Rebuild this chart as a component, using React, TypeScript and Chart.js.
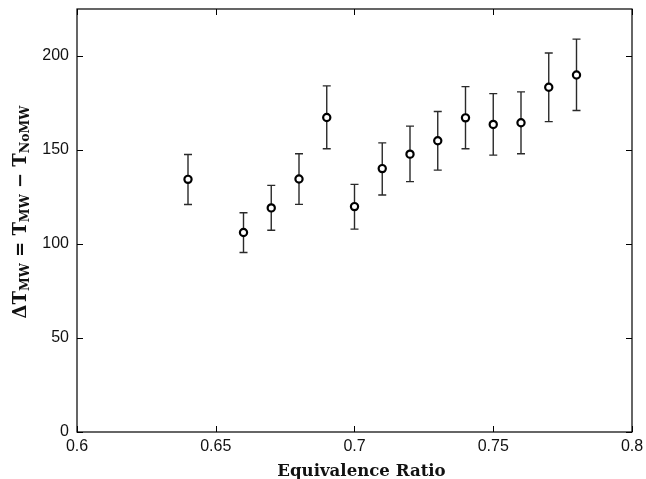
import React, { useEffect, useRef } from 'react';
import { Chart, registerables } from 'chart.js';

Chart.register(...registerables);

const ratios = [0.64, 0.66, 0.67, 0.68, 0.69, 0.7, 0.71, 0.72, 0.73, 0.74, 0.75, 0.76, 0.77, 0.78];
const deltaT = [134.4, 106.1, 119.2, 134.6, 167.3, 119.9, 140.1, 147.8, 154.9, 167.1, 163.6, 164.5, 183.4, 189.9];
const errLow = [121.0, 95.5, 107.3, 121.1, 150.7, 107.9, 126.1, 133.2, 139.3, 150.7, 147.3, 148.0, 165.1, 171.0];
const errHigh = [147.6, 116.6, 131.2, 148.0, 184.1, 131.7, 153.8, 162.7, 170.5, 183.7, 180.0, 180.9, 201.6, 209.0];
const xTicks = [0.6, 0.65, 0.7, 0.75, 0.8];
const yTicks = [0, 50, 100, 150, 200];
const xTitle = 'Equivalence Ratio';
const yTitleParts: { t: string; sub: boolean }[] = [
  { t: 'Δ', sub: false },
  { t: 'T', sub: false },
  { t: 'MW', sub: true },
  { t: ' = ', sub: false },
  { t: 'T', sub: false },
  { t: 'MW', sub: true },
  { t: ' − ', sub: false },
  { t: 'T', sub: false },
  { t: 'NoMW', sub: true },
];

const TICK_FONT = 'Liberation Sans, Arial, sans-serif';
const TITLE_FONT = 'DejaVu Serif, serif';

const framePlugin = {
  id: 'framePlugin',
  beforeDatasetsDraw(chart: any) {
    const { ctx, scales } = chart;
    const xs = scales.x;
    const ys = scales.y;
    ctx.save();
    ctx.strokeStyle = '#2a2a2a';
    ctx.lineWidth = 1.4;
    for (let i = 0; i < ratios.length; i++) {
      const px = xs.getPixelForValue(ratios[i]);
      const pl = ys.getPixelForValue(errLow[i]);
      const ph = ys.getPixelForValue(errHigh[i]);
      ctx.beginPath();
      ctx.moveTo(px, pl);
      ctx.lineTo(px, ph);
      ctx.moveTo(px - 4, pl);
      ctx.lineTo(px + 4, pl);
      ctx.moveTo(px - 4, ph);
      ctx.lineTo(px + 4, ph);
      ctx.stroke();
    }
    ctx.restore();
  },
  afterDraw(chart: any) {
    const { ctx, chartArea, scales } = chart;
    const xs = scales.x;
    const ys = scales.y;
    const { left, right, top, bottom } = chartArea;
    ctx.save();
    ctx.strokeStyle = '#000';
    ctx.lineWidth = 1.2;
    ctx.strokeRect(left, top, right - left, bottom - top);
    ctx.lineWidth = 1;
    ctx.beginPath();
    const tl = 6;
    for (const v of xTicks) {
      const px = Math.round(xs.getPixelForValue(v)) + 0.5;
      ctx.moveTo(px, bottom);
      ctx.lineTo(px, bottom - tl);
      ctx.moveTo(px, top);
      ctx.lineTo(px, top + tl);
    }
    for (const v of yTicks) {
      const py = Math.round(ys.getPixelForValue(v)) + 0.5;
      ctx.moveTo(left, py);
      ctx.lineTo(left + tl, py);
      ctx.moveTo(right, py);
      ctx.lineTo(right - tl, py);
    }
    ctx.stroke();

    // x axis title
    ctx.fillStyle = '#111';
    ctx.font = `bold 16.6px ${TITLE_FONT}`;
    ctx.textAlign = 'center';
    ctx.textBaseline = 'alphabetic';
    ctx.fillText(xTitle, (left + right) / 2 + 7, 475.5);

    // y axis title with subscripts
    const bigFont = `bold 18px ${TITLE_FONT}`;
    const subFont = `bold 12.5px ${TITLE_FONT}`;
    let total = 0;
    const widths: number[] = [];
    for (const p of yTitleParts) {
      ctx.font = p.sub ? subFont : bigFont;
      const w = ctx.measureText(p.t).width;
      widths.push(w);
      total += w;
    }
    ctx.translate(26, 212);
    ctx.rotate(-Math.PI / 2);
    ctx.textAlign = 'left';
    let x = -total / 2;
    yTitleParts.forEach((p, i) => {
      ctx.font = p.sub ? subFont : bigFont;
      ctx.fillText(p.t, x, p.sub ? 3 : 0);
      x += widths[i];
    });
    ctx.restore();
  },
};

export default function App() {
  const ref = useRef<HTMLCanvasElement | null>(null);
  useEffect(() => {
    if (!ref.current) return;
    const chart = new Chart(ref.current, {
      type: 'scatter',
      data: {
        datasets: [
          {
            data: ratios.map((r, i) => ({ x: r, y: deltaT[i] })),
            pointRadius: 3.6,
            pointBorderWidth: 2.2,
            borderColor: '#000',
            backgroundColor: '#fff',
            pointHoverRadius: 3.6,
          },
        ],
      },
      options: {
        responsive: false,
        animation: false,
        events: [],
        layout: { padding: { top: 9, right: 14, left: 0, bottom: 0 } },
        plugins: {
          legend: { display: false },
          tooltip: { enabled: false },
        },
        scales: {
          x: {
            type: 'linear',
            min: 0.6,
            max: 0.8,
            afterBuildTicks: (s: any) => {
              s.ticks = xTicks.map((v) => ({ value: v }));
            },
            afterFit: (s: any) => {
              s.height = 47;
              s.paddingLeft = 0;
              s.paddingRight = 0;
            },
            grid: { display: false, drawTicks: false },
            border: { display: false },
            ticks: {
              padding: 5,
              color: '#111',
              font: { family: TICK_FONT, size: 16 },
              maxRotation: 0,
              autoSkip: false,
              callback: (v: any) => String(Number(v)),
            },
            title: { display: false },
          },
          y: {
            type: 'linear',
            min: 0,
            max: 225,
            afterBuildTicks: (s: any) => {
              s.ticks = yTicks.map((v) => ({ value: v }));
            },
            afterFit: (s: any) => {
              s.width = 77;
              s.paddingTop = 0;
              s.paddingBottom = 0;
            },
            grid: { display: false, drawTicks: false },
            border: { display: false },
            ticks: {
              padding: 8,
              color: '#111',
              autoSkip: false,
              font: { family: TICK_FONT, size: 16 },
            },
          },
        },
      },
      plugins: [framePlugin],
    } as any);
    return () => chart.destroy();
  }, []);
  return (
    <div style={{ position: 'absolute', left: 0, top: 0, width: 646, height: 479, background: '#fff' }}>
      <canvas ref={ref} width={646} height={479} />
    </div>
  );
}
